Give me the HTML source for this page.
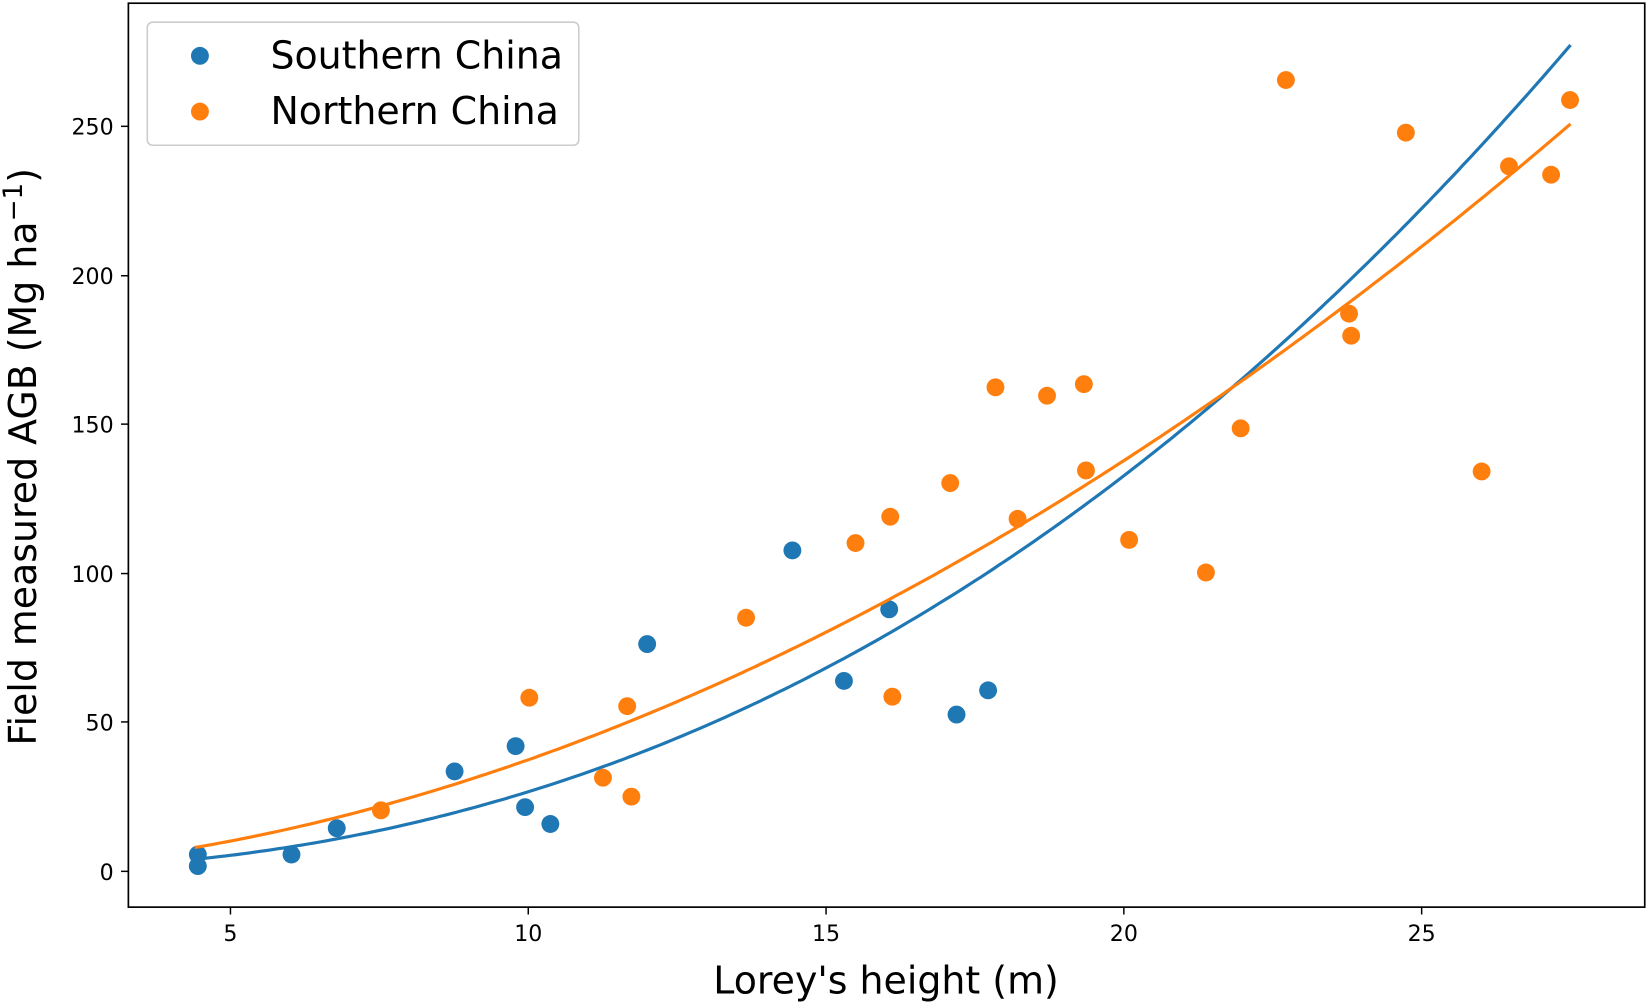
<!DOCTYPE html>
<html><head><meta charset="utf-8"><style>
html,body{margin:0;padding:0;background:#fff;}
svg{display:block;}
text{font-family:"DejaVu Sans","Liberation Sans",sans-serif;fill:#000;}
</style></head><body>
<svg id="s" width="1650" height="1004" viewBox="0 0 1568 954" xmlns="http://www.w3.org/2000/svg">
<rect x="0" y="0" width="1568" height="954" fill="#fff"/>
<g id="pts"></g>
<path id="cb" fill="none" stroke="#1f77b4" stroke-width="3"/>
<path id="co" fill="none" stroke="#ff7f0e" stroke-width="3"/>
<rect x="122" y="3" width="1441" height="859" fill="none" stroke="#000" stroke-width="1.6"/>
<g stroke="#000" stroke-width="1.4">
<line x1="219" y1="862" x2="219" y2="869"/><line x1="502" y1="862" x2="502" y2="869"/>
<line x1="785" y1="862" x2="785" y2="869"/><line x1="1068" y1="862" x2="1068" y2="869"/>
<line x1="1351" y1="862" x2="1351" y2="869"/>
<line x1="115" y1="828" x2="122" y2="828"/><line x1="115" y1="686" x2="122" y2="686"/>
<line x1="115" y1="545" x2="122" y2="545"/><line x1="115" y1="403" x2="122" y2="403"/>
<line x1="115" y1="262" x2="122" y2="262"/><line x1="115" y1="120" x2="122" y2="120"/>
</g>
<g font-size="21" text-anchor="middle">
<text x="219" y="894">5</text><text x="502" y="894">10</text><text x="785" y="894">15</text>
<text x="1068" y="894">20</text><text x="1351" y="894">25</text>
</g>
<g font-size="21" text-anchor="end">
<text x="108" y="836">0</text><text x="108" y="694">50</text><text x="108" y="553">100</text>
<text x="108" y="411">150</text><text x="108" y="270">200</text><text x="108" y="128">250</text>
</g>
<text x="842" y="944" font-size="36" text-anchor="middle">Lorey's height (m)</text>
<text transform="translate(34,434) rotate(-90)" font-size="36" text-anchor="middle">Field measured AGB (Mg ha<tspan font-size="25" dy="-13">−1</tspan><tspan dy="13">)</tspan></text>
<rect x="140" y="21" width="410" height="117" rx="5" fill="#fff" fill-opacity="0.8" stroke="#ccc" stroke-width="1.5"/>
<circle cx="190" cy="53" r="8.5" fill="#1f77b4"/>
<circle cx="190" cy="106" r="8.5" fill="#ff7f0e"/>
<text x="257" y="65" font-size="36">Southern China</text>
<text x="257" y="118" font-size="36">Northern China</text>
</svg>
<script>
var X=function(v){return 219+(v-5)*56.6;},Y=function(v){return 828-v*2.832;};
function curve(a,b){var d="";for(var x=4.4;x<=27.5001;x+=0.1){d+=(d?"L":"M")+X(x).toFixed(1)+","+Y(a*Math.pow(x/4.4,b)).toFixed(1);}return d;}
document.getElementById("cb").setAttribute("d",curve(4,2.313));
document.getElementById("co").setAttribute("d",curve(8,1.88));
var blue=[[188,812],[188,823],[277,812],[320,787],[432,733],[490,709],[499,767],[523,783],[615,612],[753,523],[802,647],[845,579],[909,679],[939,656]];
var orange=[[362,770],[503,663],[573,739],[596,671],[600,757],[709,587],[813,516],[846,491],[848,662],[903,459],[946,368],[967,493],[995,376],[1030,365],[1032,447],[1073,513],[1146,544],[1179,407],[1222,76],[1282,298],[1284,319],[1336,126],[1408,448],[1434,158],[1474,166],[1492,95]];
var g=document.getElementById("pts"),h="";
blue.forEach(function(p){h+='<circle cx="'+p[0]+'" cy="'+p[1]+'" r="8.5" fill="#1f77b4"/>';});
orange.forEach(function(p){h+='<circle cx="'+p[0]+'" cy="'+p[1]+'" r="8.5" fill="#ff7f0e"/>';});
g.innerHTML=h;
</script>
</body></html>
